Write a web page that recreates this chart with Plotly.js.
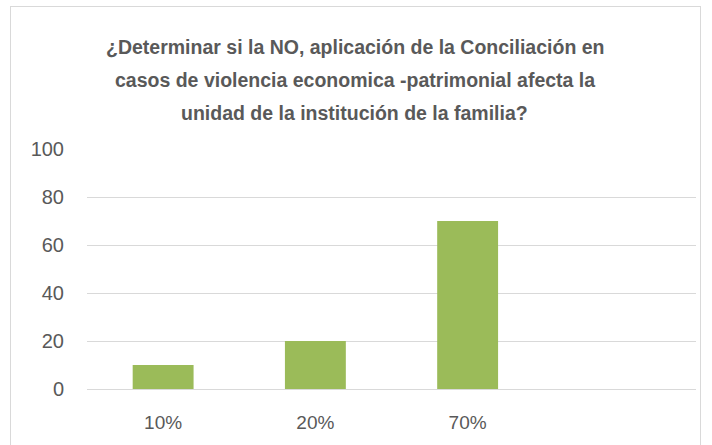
<!DOCTYPE html>
<html>
<head>
<meta charset="utf-8">
<script src="https://cdn.plot.ly/plotly-3.0.1.min.js"></script>
<style>
  html, body { margin: 0; padding: 0; background: #ffffff; }
  #wrap { position: relative; width: 712px; height: 445px; overflow: hidden; }
  #frame { position: absolute; left: 10px; top: 6px; width: 691px; height: 460px; border: 1px solid #d9d9d9; box-sizing: border-box; }
  #chart { position: absolute; left: 0; top: 0; width: 712px; height: 445px; }
</style>
</head>
<body>
<div id="wrap">
  <div id="frame"></div>
  <div id="chart"></div>
</div>
<script>
const categories = ["10%", "20%", "70%"];
const values = [10, 20, 70];
const yTicks = [0, 20, 40, 60, 80, 100];
const titleLines = [
  "¿Determinar si la NO, aplicación de la Conciliación en",
  "casos de violencia economica -patrimonial afecta la",
  "unidad de la institución de la familia?"
];

const textColor = "#595959";
const fontFam = "Liberation Sans, Arial, sans-serif";

const trace = {
  type: "bar",
  x: categories,
  y: values,
  marker: { color: "#9bbb59", line: { width: 0 } },
  hoverinfo: "x+y"
};

const titleY = [1.425, 1.287, 1.15];
const annotations = titleLines.map((t, i) => ({
  text: "<b>" + t + "</b>",
  xref: "paper", yref: "paper",
  x: 0.44, y: titleY[i],
  xanchor: "center", yanchor: "middle",
  showarrow: false,
  font: { family: fontFam, size: 19.5, color: textColor }
}));

const layout = {
  width: 712,
  height: 445,
  margin: { l: 87, r: 16, t: 149, b: 56, pad: 0 },
  paper_bgcolor: "rgba(0,0,0,0)",
  plot_bgcolor: "rgba(0,0,0,0)",
  showlegend: false,
  bargap: 0.6,
  annotations: annotations,
  xaxis: {
    type: "category",
    range: [-0.5, 3.5],
    showgrid: false,
    zeroline: false,
    showline: false,
    ticks: "",
    ticklabelstandoff: 20,
    tickfont: { family: fontFam, size: 19, color: textColor },
    fixedrange: true
  },
  yaxis: {
    range: [0, 100],
    tickvals: yTicks,
    ticktext: yTicks.map(String),
    showgrid: true,
    gridcolor: "#d9d9d9",
    gridwidth: 1,
    zeroline: true,
    zerolinecolor: "#d9d9d9",
    zerolinewidth: 1,
    showline: false,
    ticks: "",
    ticklabelstandoff: 22,
    tickfont: { family: fontFam, size: 20, color: textColor },
    fixedrange: true
  }
};

Plotly.newPlot("chart", [trace], layout, { displayModeBar: false, staticPlot: true });
</script>
</body>
</html>
